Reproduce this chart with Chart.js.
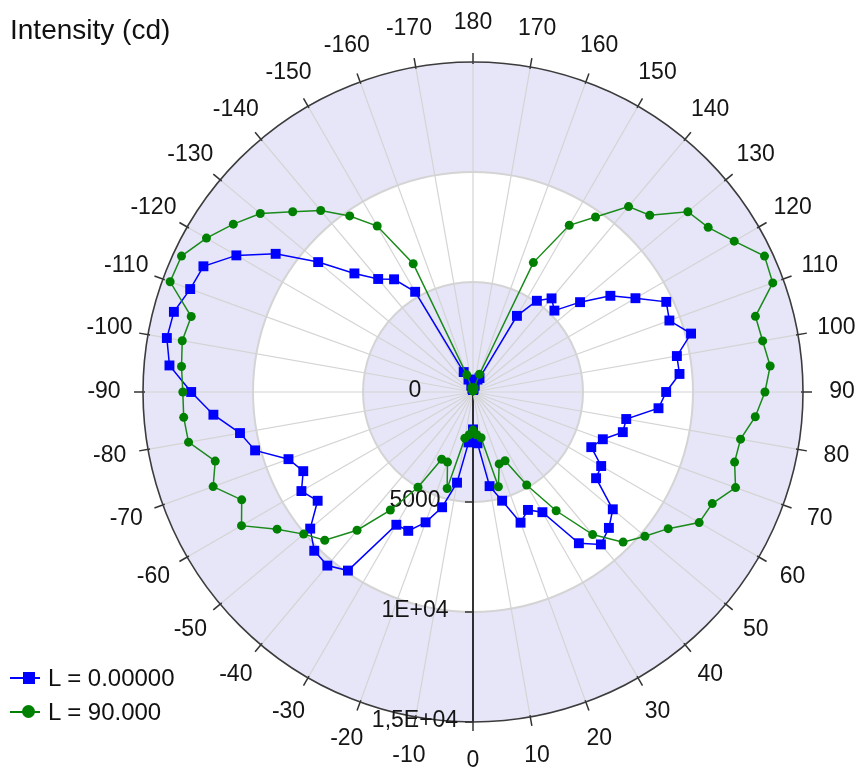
<!DOCTYPE html>
<html>
<head>
<meta charset="utf-8">
<title>Intensity (cd)</title>
<script src="https://cdn.jsdelivr.net/npm/chart.js@4.4.1/dist/chart.umd.min.js"></script>
<style>
    html, body { margin: 0; padding: 0; background: #fff; }
    #wrap {
        position: relative;
        width: 860px;
        height: 771px;
        font-family: "Liberation Sans", Arial, sans-serif;
        color: #111;
    }
    #title {
        position: absolute;
        left: 10px;
        top: 16px;
        font-size: 28px;
        line-height: 28px;
    }
    .leg {
        position: absolute;
        left: 10px;
        height: 24px;
        font-size: 24px;
        line-height: 24px;
        white-space: nowrap;
    }
    .leg .ln { position: absolute; left: 0; top: 11px; width: 30px; height: 2px; }
    .leg .mk { position: absolute; }
    .leg .tx { position: absolute; left: 38px; top: 0; }
</style>
</head>
<body>
<div id="wrap">
    <canvas id="polar"></canvas>
    <div id="title">Intensity (cd)</div>
    <div class="leg" style="top:666px">
        <div class="ln" style="background:#0000ff"></div>
        <div class="mk" style="left:13px;top:6px;width:12px;height:12px;background:#0000ff"></div>
        <div class="tx">L = 0.00000</div>
    </div>
    <div class="leg" style="top:700px">
        <div class="ln" style="background:#008000"></div>
        <div class="mk" style="left:12px;top:5px;width:13px;height:13px;border-radius:50%;background:#008000"></div>
        <div class="tx">L = 90.000</div>
    </div>
</div>
<script>
// Angles (deg), clockwise from the top of the chart
const angleLabels = [
    180, 175, 170, 165, 160, 155, 150, 145, 140, 135, 130, 125,
    120, 115, 110, 105, 100, 95, 90, 85, 80, 75, 70, 65,
    60, 55, 50, 45, 40, 35, 30, 25, 20, 15, 10, 5,
    0, -5, -10, -15, -20, -25, -30, -35, -40, -45, -50, -55,
    -60, -65, -70, -75, -80, -85, -90, -95, -100, -105, -110, -115,
    -120, -125, -130, -135, -140, -145, -150, -155, -160, -165, -170, -175
];

// L = 0.00000
const intensityL0 = [
    100, 100, 150, 300, 600, 700, 3996, 5062, 5555, 5233, 6353, 7623,
    8526, 9693, 9500, 10260, 9410, 9422, 8780, 8464, 7073, 7050, 6280, 5932,
    6728, 6830, 8295, 8736, 9045, 8392, 6309, 5914, 6320, 5115, 4345, 2340,
    1700, 2300, 4185, 5424, 6304, 6964, 6968, 9910, 10300, 10205, 9660, 8620,
    9005, 8513, 8925, 10255, 10754, 11845, 12810, 13850, 14130, 14075, 13680, 13520,
    12420, 10950, 9186, 7623, 6705, 6254, 5259, 1000, 600, 300, 150, 100
];

// L = 90.000
const intensityL90 = [
    50, 50, 100, 200, 860, 6490, 8750, 9710, 11000, 11360, 12750, 13050,
    13710, 14620, 14500, 13290, 13370, 13560, 13270, 12880, 12350, 12310, 12700, 12000,
    11870, 10830, 10200, 9650, 8460, 6590, 4880, 3450, 3480, 4460, 2110, 1950,
    1730, 1950, 2130, 4540, 3390, 3370, 5000, 6550, 8200, 9530, 10050, 10870,
    12150, 11600, 12570, 12130, 13130, 13200, 13190, 13300, 13420, 13260, 14650, 14620,
    13990, 13300, 12620, 11590, 10770, 9770, 8710, 6430, 830, 200, 100, 50
];

// Radial ticks
const tickValues = [0, 5000, 10000, 15000];
const tickLabels = ['0', '5000', '1E+04', '1,5E+04'];

const bandFill = '#e6e6f8';
const gridGray = '#d4d4d4';
const labelColor = '#151515';
const labelFont = '23px "Liberation Sans", Arial, sans-serif';

/**
 * Background bands, outer ticks, angle labels and radial tick labels
 */
const polarDecor = {
    id: 'polarDecor',
    beforeDraw(chart) {
        const s = chart.scales.r;
        const ctx = chart.ctx;
        ctx.save();
        // outermost band first, then alternate white / lavender inward
        for (let k = tickValues.length - 1; k > 0; k--) {
            ctx.beginPath();
            ctx.arc(s.xCenter, s.yCenter, s.getDistanceFromCenterForValue(tickValues[k]), 0, Math.PI * 2);
            ctx.fillStyle = (tickValues.length - 1 - k) % 2 === 0 ? bandFill : '#ffffff';
            ctx.fill();
        }
        ctx.restore();
    },
    beforeDatasetsDraw(chart) {
        const s = chart.scales.r;
        const ctx = chart.ctx;
        const outer = s.getDistanceFromCenterForValue(s.max);
        ctx.save();

        // small tick marks on the outer circle every 10 degrees
        ctx.strokeStyle = '#333';
        ctx.lineWidth = 1.5;
        angleLabels.forEach((a, i) => {
            if (a % 10 !== 0) return;
            const p1 = s.getPointPosition(i, outer - 2);
            const p2 = s.getPointPosition(i, outer + 9);
            ctx.beginPath();
            ctx.moveTo(p1.x, p1.y);
            ctx.lineTo(p2.x, p2.y);
            ctx.stroke();
        });

        // tick marks on the 0 degree axis
        const zeroIdx = angleLabels.indexOf(0);
        tickValues.forEach(v => {
            if (v === 0) return;
            const p = s.getPointPosition(zeroIdx, s.getDistanceFromCenterForValue(v));
            ctx.beginPath();
            ctx.moveTo(p.x - 8, p.y);
            ctx.lineTo(p.x, p.y);
            ctx.stroke();
        });

        ctx.fillStyle = labelColor;
        ctx.font = labelFont;
        ctx.textAlign = 'center';
        ctx.textBaseline = 'middle';

        // angle labels
        angleLabels.forEach((a, i) => {
            if (a % 10 !== 0) return;
            const p = s.getPointPosition(i, outer + 39);
            ctx.fillText(String(a), p.x, p.y);
        });

        // radial value labels, left of the 0 degree axis
        tickValues.forEach((v, k) => {
            const y = s.yCenter + s.getDistanceFromCenterForValue(v) - 1;
            ctx.fillText(tickLabels[k], s.xCenter - 58, y);
        });
        ctx.restore();
    }
};

new Chart(document.getElementById('polar'), {
    type: 'radar',
    data: {
        labels: angleLabels,
        datasets: [
            {
                label: 'L = 0.00000',
                data: intensityL0,
                borderColor: '#0000ff',
                backgroundColor: '#0000ff',
                borderWidth: 1.5,
                pointStyle: 'rect',
                pointRadius: 7,
                pointBorderWidth: 0,
                pointBackgroundColor: '#0000ff',
                fill: false,
                order: 2
            },
            {
                label: 'L = 90.000',
                data: intensityL90,
                borderColor: '#1a8a1a',
                backgroundColor: '#008000',
                borderWidth: 1.5,
                pointStyle: 'circle',
                pointRadius: 4.5,
                pointBorderWidth: 0,
                pointBackgroundColor: '#008000',
                fill: false,
                order: 1
            }
        ]
    },
    options: {
        responsive: true,
        maintainAspectRatio: false,
        animation: false,
        events: [],
        layout: { padding: { left: 143, right: 56, top: 62, bottom: 49 } },
        elements: { line: { tension: 0 } },
        plugins: {
            legend: { display: false },
            tooltip: { enabled: false }
        },
        scales: {
            r: {
                min: 0,
                max: 15000,
                ticks: { display: false, stepSize: 5000 },
                pointLabels: { display: false },
                grid: {
                    circular: true,
                    color: (c) => c.tick && c.tick.value === 15000 ? '#3c3c3c' : gridGray,
                    lineWidth: (c) => c.tick && c.tick.value === 15000 ? 1.6 : 2
                },
                angleLines: {
                    color: (c) => {
                        if (angleLabels[c.index] === 0) return '#000';
                        return angleLabels[c.index] % 10 === 0 ? gridGray : 'rgba(0,0,0,0)';
                    },
                    lineWidth: (c) => angleLabels[c.index] === 0 ? 1.6 : 1.2
                }
            }
        }
    },
    plugins: [polarDecor]
});
</script>
</body>
</html>
